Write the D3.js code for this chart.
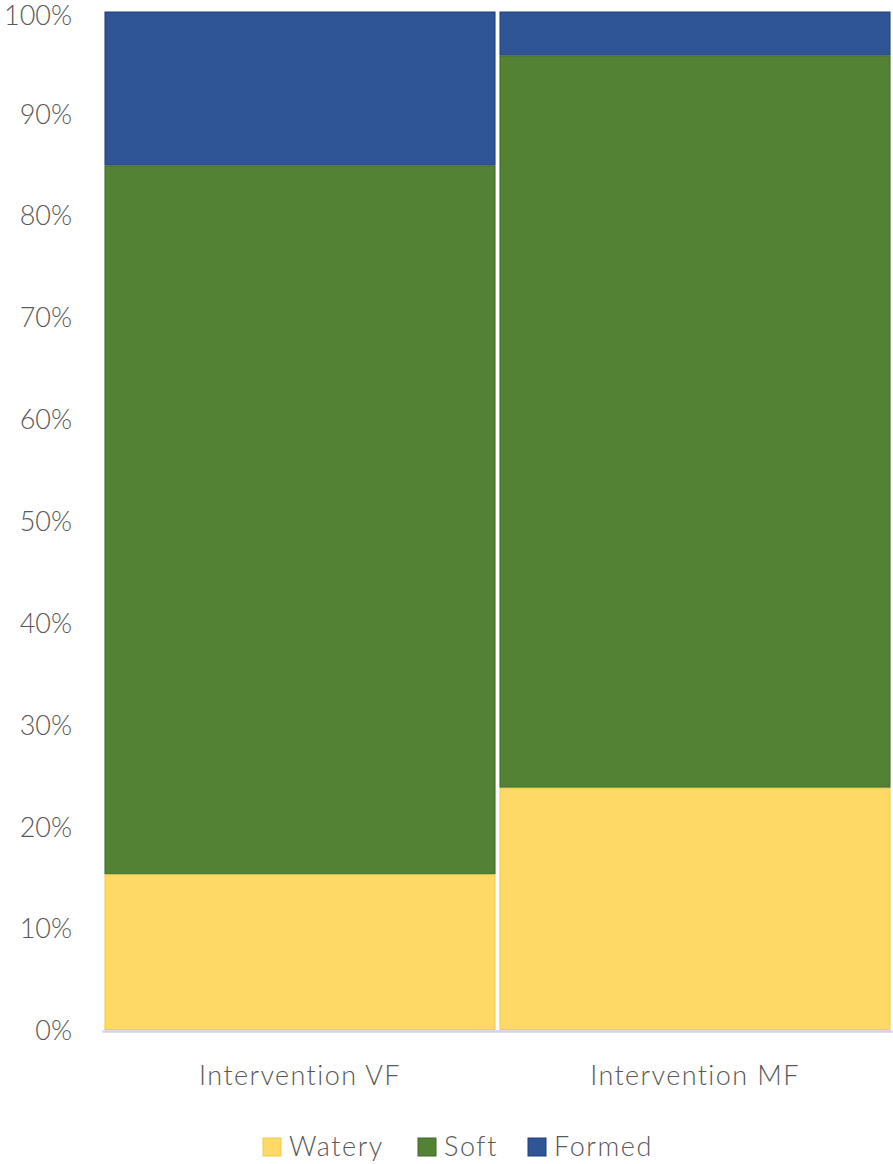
<!DOCTYPE html>
<html>
<head>
<meta charset="utf-8">
<script src="https://cdn.jsdelivr.net/npm/d3@7"></script>
<style>
  body { margin: 0; background: #fff; }
  text { font-family: Lato, "Open Sans", sans-serif; font-weight: 300; fill: #595959; }
</style>
</head>
<body>
<div id="chart"></div>
<script>
// values (percent of each group)
const categories = ["Intervention VF", "Intervention MF"];
const seriesNames = ["Watery", "Soft", "Formed"];
const watery = [15.3, 23.8];
const soft = [69.6, 71.9];
const formed = [15.1, 4.3];
const tickValues = [0, 10, 20, 30, 40, 50, 60, 70, 80, 90, 100];

const colors = ["#FFD966", "#548235", "#2F5597"];
const strokes = ["#F2C94C", "#3F6B24", "#1F3F7A"];

const width = 893, height = 1164;
const margin = {left: 102.5, right: 0.5, top: 11.5, bottom: 134};

const rows = categories.map((c, i) => ({cat: c, Watery: watery[i], Soft: soft[i], Formed: formed[i]}));
const stacked = d3.stack().keys(seriesNames)(rows);

const svg = d3.select("#chart").append("svg")
    .attr("width", width)
    .attr("height", height);

const x = d3.scaleBand()
    .domain(categories)
    .range([margin.left, width - margin.right])
    .paddingInner(0.01)
    .paddingOuter(0.005);

const y = d3.scaleLinear()
    .domain([0, 100])
    .range([height - margin.bottom, margin.top]);

// bars
svg.append("g")
    .selectAll("g")
    .data(stacked)
    .join("g")
    .attr("fill", (d, i) => colors[i])
    .attr("stroke", (d, i) => strokes[i])
    .attr("stroke-width", 1)
    .selectAll("rect")
    .data(d => d)
    .join("rect")
    .attr("x", d => x(d.data.cat) + 0.5)
    .attr("width", x.bandwidth() - 1)
    .attr("y", d => y(d[1]) + 0.5)
    .attr("height", d => y(d[0]) - y(d[1]) - 1);

// axis line at bottom
svg.append("line")
    .attr("x1", margin.left)
    .attr("x2", width - margin.right)
    .attr("y1", y(0) + 1.5)
    .attr("y2", y(0) + 1.5)
    .attr("stroke", "#D0D4E0")
    .attr("stroke-width", 2.5);

// y tick labels
const yAxis = svg.append("g")
    .attr("transform", `translate(72,0)`)
    .call(d3.axisLeft(y).tickValues(tickValues).tickSize(0).tickPadding(0).tickFormat(d => d + "%"));
yAxis.select(".domain").remove();
yAxis.selectAll("text")
    .attr("font-size", 27)
    .attr("font-family", null)
    .attr("fill", null)
    .attr("dy", d => d === 100 ? "0.48em" : "0.36em");

// category labels
const xAxis = svg.append("g")
    .attr("transform", `translate(0,${y(0)})`)
    .call(d3.axisBottom(x).tickSize(0).tickPadding(0));
xAxis.select(".domain").remove();
xAxis.selectAll("text")
    .attr("font-size", 27)
    .attr("font-family", null)
    .attr("fill", null)
    .attr("letter-spacing", 1.4)
    .attr("dy", null)
    .attr("y", 55);

// legend
const legendX = [263, 418, 528];
const legend = svg.append("g")
    .selectAll("g")
    .data(seriesNames)
    .join("g")
    .attr("transform", (d, i) => `translate(${legendX[i]},1138)`);
legend.append("rect")
    .attr("width", 18)
    .attr("height", 18)
    .attr("fill", (d, i) => colors[i])
    .attr("stroke", (d, i) => strokes[i]);
legend.append("text")
    .attr("x", 26)
    .attr("y", 18)
    .attr("font-size", 27)
    .attr("letter-spacing", 1.6)
    .text(d => d);
</script>
</body>
</html>
